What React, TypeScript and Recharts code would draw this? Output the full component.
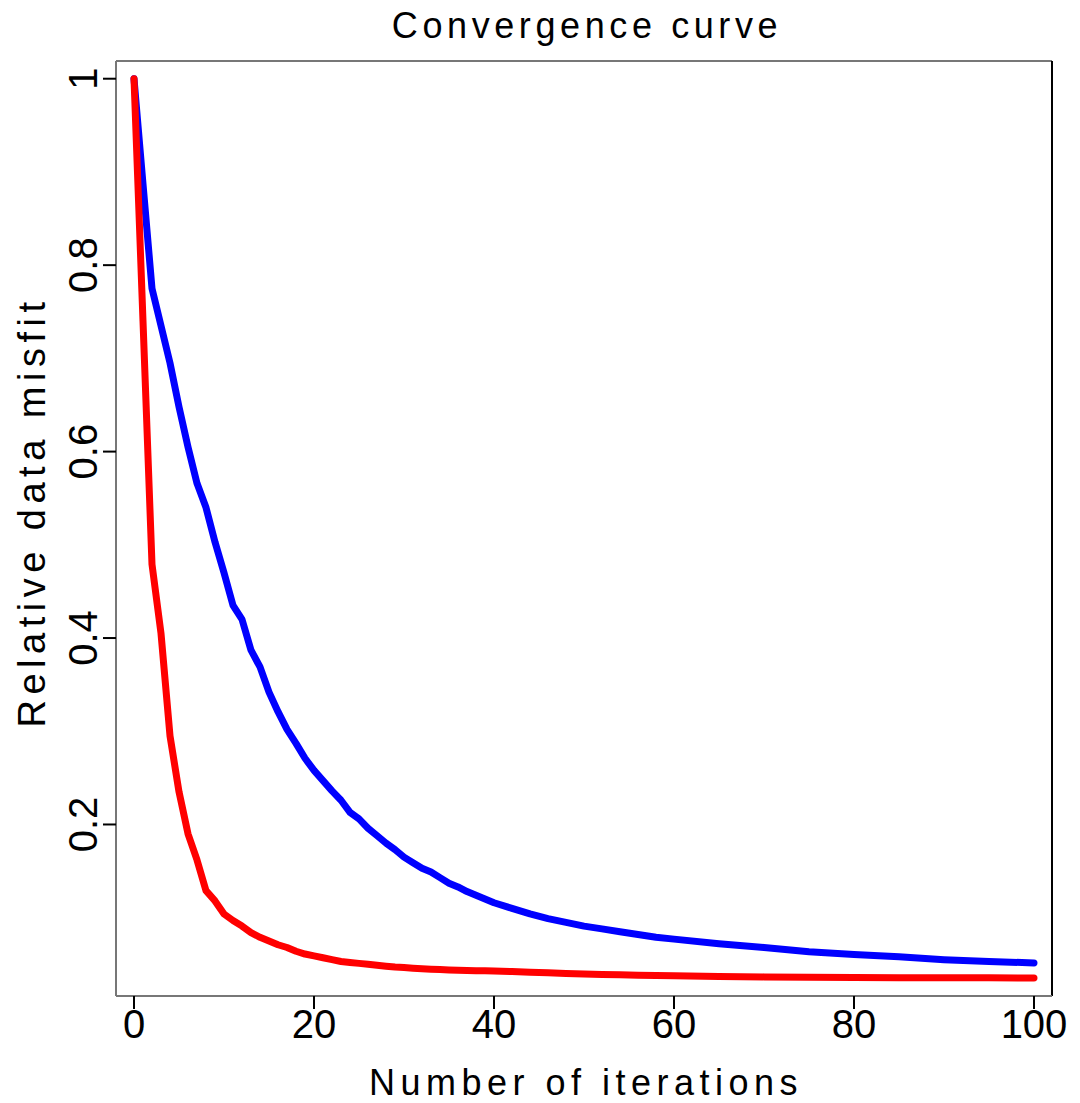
import { Label, Line, LineChart, ReferenceLine, XAxis, YAxis } from 'recharts';

const iterations = [
  0, 1, 2, 3, 4, 5, 6, 7, 8, 9, 10, 11, 12, 13, 14, 15, 16, 17, 18, 19, 20,
  21, 22, 23, 24, 25, 26, 27, 28, 29, 30, 31, 32, 33, 34, 35, 36, 37, 38, 39, 40,
  42, 44, 46, 48, 50, 52, 54, 56, 58, 60, 65, 70, 75, 80, 85, 90, 95, 100,
];

const blueMisfit = [
  1.0, 0.887, 0.775, 0.735, 0.695, 0.648, 0.605, 0.566, 0.54, 0.503, 0.47,
  0.435, 0.42, 0.387, 0.369, 0.342, 0.321, 0.302, 0.287, 0.271, 0.258,
  0.247, 0.236, 0.226, 0.213, 0.206, 0.196, 0.188, 0.18, 0.173, 0.165,
  0.159, 0.153, 0.149, 0.143, 0.137, 0.133, 0.128, 0.124, 0.12, 0.116,
  0.11, 0.104, 0.099, 0.095, 0.091, 0.088, 0.085, 0.082, 0.079, 0.077,
  0.072, 0.068, 0.0635, 0.0605, 0.058, 0.055, 0.053, 0.0515,
];

const redMisfit = [
  1.0, 0.74, 0.479, 0.405, 0.295, 0.235, 0.19, 0.162, 0.129, 0.118, 0.104,
  0.097, 0.091, 0.084, 0.079, 0.075, 0.071, 0.068, 0.064, 0.061, 0.059,
  0.057, 0.055, 0.053, 0.052, 0.051, 0.05, 0.049, 0.048, 0.047, 0.0465,
  0.0458, 0.0452, 0.0447, 0.0443, 0.044, 0.0437, 0.0434, 0.0432, 0.043, 0.0428,
  0.0422, 0.0416, 0.041, 0.0402, 0.0395, 0.0391, 0.0387, 0.0383, 0.038, 0.0377,
  0.037, 0.0365, 0.0361, 0.0358, 0.0357, 0.0356, 0.0355, 0.0354,
];

const xTicks = [0, 20, 40, 60, 80, 100];
const yTicks = [0.2, 0.4, 0.6, 0.8, 1];

const title = 'Convergence curve';
const xLabel = 'Number of iterations';
const yLabel = 'Relative data misfit';

const data = iterations.map((it, i) => ({ it, blue: blueMisfit[i], red: redMisfit[i] }));

const xDomain = [-2, 102];
const yDomain = [0.016, 1.019];

const font = "'Liberation Sans', Arial, sans-serif";
const frame = '#777';

const XTick = ({ x, y, payload }: any) => (
  <text x={x} y={y + 27} textAnchor="middle" fontFamily={font} fontSize={40} fill="#000">
    {payload.value}
  </text>
);

const YTick = ({ x, y, payload }: any) => (
  <text transform={`translate(${x - 4},${y}) rotate(-90)`} textAnchor="middle" fontFamily={font} fontSize={40} fill="#000">
    {String(payload.value)}
  </text>
);

export default function App() {
  return (
    <div style={{ position: 'absolute', left: 0, top: 0, width: 1080, height: 1103, background: '#fff' }}>
      <LineChart width={1080} height={1103} data={data} margin={{ top: 61, right: 28, bottom: 0, left: 0 }}>
        <XAxis
          dataKey="it"
          type="number"
          domain={xDomain}
          ticks={xTicks}
          allowDataOverflow
          height={107}
          axisLine={{ stroke: frame, strokeWidth: 2 }}
          tickLine={{ stroke: '#000', strokeWidth: 2 }}
          tickSize={13}
          tick={<XTick />}
        >
          <Label
            content={() => (
              <text x={586} y={1095} textAnchor="middle" fontFamily={font} fontSize={36} letterSpacing={5.5} fill="#000">
                {xLabel}
              </text>
            )}
          />
        </XAxis>
        <YAxis
          type="number"
          domain={yDomain}
          ticks={yTicks}
          allowDataOverflow
          width={116}
          axisLine={{ stroke: frame, strokeWidth: 2 }}
          tickLine={{ stroke: '#000', strokeWidth: 2 }}
          tickSize={13}
          tick={<YTick />}
        >
          <Label
            content={() => (
              <text transform="translate(45,512) rotate(-90)" textAnchor="middle" fontFamily={font} fontSize={38} letterSpacing={5.5} fill="#000">
                {yLabel}
              </text>
            )}
          />
        </YAxis>
        <ReferenceLine y={yDomain[1]} stroke={frame} strokeWidth={2}>
          <Label
            content={() => (
              <text x={587} y={38} textAnchor="middle" fontFamily={font} fontSize={36} letterSpacing={4.6} fill="#000">
                {title}
              </text>
            )}
          />
        </ReferenceLine>
        <ReferenceLine x={xDomain[1]} stroke="#000" strokeWidth={2} />
        <Line dataKey="blue" stroke="#0000ff" strokeWidth={7} dot={false} isAnimationActive={false} strokeLinecap="round" strokeLinejoin="round" />
        <Line dataKey="red" stroke="#ff0000" strokeWidth={7} dot={false} isAnimationActive={false} strokeLinecap="round" strokeLinejoin="round" />
      </LineChart>
    </div>
  );
}
